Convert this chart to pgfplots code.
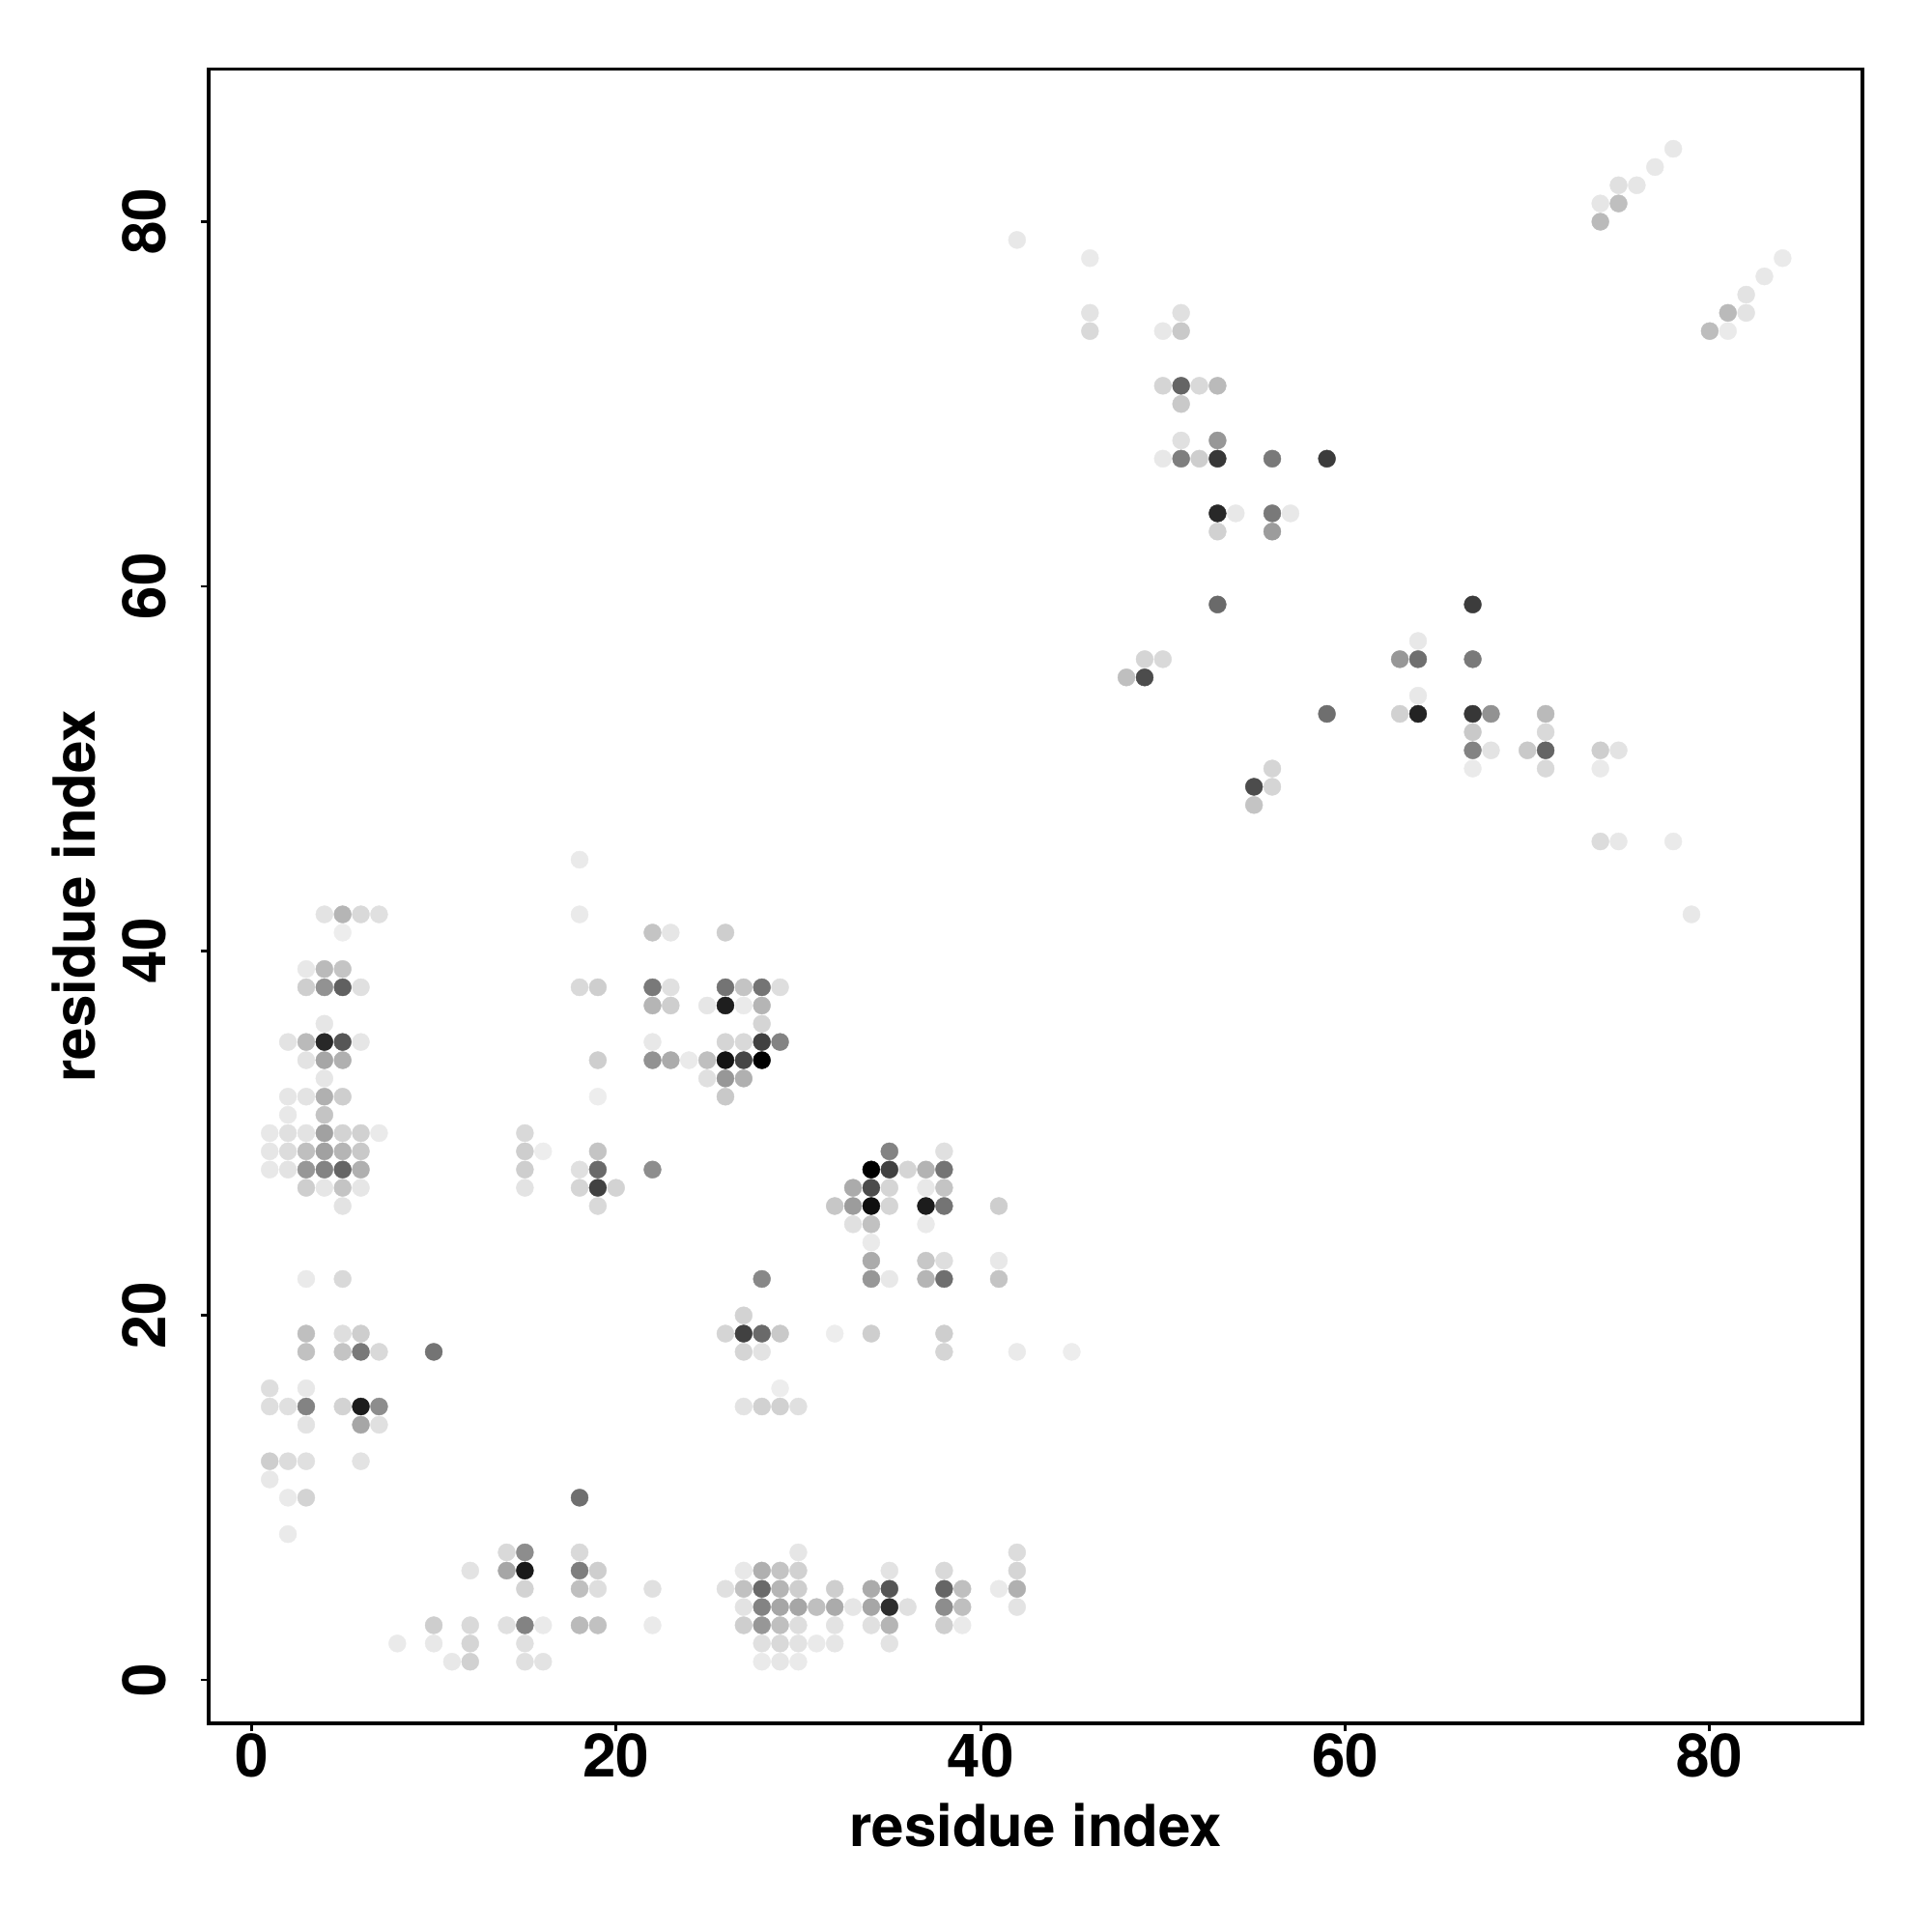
\documentclass[border=0pt]{standalone}
\usepackage{fontspec}
\setmainfont{TeX Gyre Heros}
\usepackage{pgfplots}
\usepackage{pgfplotstable}
\pgfplotsset{compat=1.18}

% one row per y value: x y grey level (0 = black, 255 = white)
\pgfplotstableread[row sep=crcr]{
x y g\\
78 84 230\\ 77 83 230\\ 75 82 222\\ 76 82 228\\ 74 81 228\\ 75 81 190\\ 74 80 185\\
42 79 230\\ 46 78 232\\ 84 78 232\\ 83 77 230\\ 82 76 225\\
46 75 225\\ 51 75 222\\ 81 75 185\\ 82 75 225\\
46 74 215\\ 50 74 230\\ 51 74 200\\ 80 74 188\\ 81 74 232\\
50 71 212\\ 51 71 100\\ 52 71 215\\ 53 71 185\\ 51 70 200\\
51 68 222\\ 53 68 150\\
50 67 230\\ 51 67 125\\ 52 67 205\\ 53 67 55\\ 56 67 120\\ 59 67 60\\
53 64 40\\ 54 64 230\\ 56 64 120\\ 57 64 230\\ 53 63 208\\ 56 63 155\\
53 59 105\\ 67 59 60\\ 64 57 230\\
49 56 212\\ 50 56 215\\ 63 56 150\\ 64 56 110\\ 67 56 120\\
48 55 190\\ 49 55 75\\ 64 54 230\\
59 53 110\\ 63 53 208\\ 64 53 35\\ 67 53 55\\ 68 53 145\\ 71 53 185\\
67 52 200\\ 71 52 215\\
67 51 130\\ 68 51 225\\ 70 51 200\\ 71 51 100\\ 74 51 205\\ 75 51 225\\
56 50 212\\ 67 50 232\\ 71 50 215\\ 74 50 232\\
55 49 75\\ 56 49 212\\ 55 48 195\\
74 46 218\\ 75 46 230\\ 78 46 232\\ 18 45 232\\
4 42 225\\ 5 42 180\\ 6 42 215\\ 7 42 222\\ 18 42 232\\ 79 42 230\\
5 41 235\\ 22 41 195\\ 23 41 228\\ 26 41 205\\
3 39 230\\ 4 39 185\\ 5 39 195\\
3 38 205\\ 4 38 145\\ 5 38 95\\ 6 38 222\\ 18 38 215\\ 19 38 205\\ 22 38 120\\ 23 38 222\\ 26 38 115\\ 27 38 195\\ 28 38 115\\ 29 38 220\\
22 37 180\\ 23 37 205\\ 25 37 228\\ 26 37 30\\ 27 37 232\\ 28 37 180\\
4 36 228\\ 28 36 212\\
2 35 225\\ 3 35 185\\ 4 35 40\\ 5 35 85\\ 6 35 228\\ 22 35 230\\ 26 35 212\\ 27 35 215\\ 28 35 65\\ 29 35 130\\
3 34 225\\ 4 34 165\\ 5 34 175\\ 19 34 205\\ 22 34 145\\ 23 34 170\\ 24 34 232\\ 25 34 190\\ 26 34 20\\ 27 34 70\\ 28 34 0\\
4 33 228\\ 25 33 222\\ 26 33 150\\ 27 33 175\\
2 32 228\\ 3 32 225\\ 4 32 175\\ 5 32 205\\ 19 32 235\\ 26 32 200\\
2 31 230\\ 4 31 195\\
1 30 230\\ 2 30 222\\ 3 30 225\\ 4 30 160\\ 5 30 210\\ 6 30 208\\ 7 30 232\\ 15 30 215\\
1 29 228\\ 2 29 218\\ 3 29 190\\ 4 29 160\\ 5 29 180\\ 6 29 200\\ 15 29 205\\ 16 29 235\\ 19 29 195\\ 35 29 130\\ 38 29 222\\
1 28 230\\ 2 28 225\\ 3 28 150\\ 4 28 130\\ 5 28 100\\ 6 28 175\\ 15 28 205\\ 18 28 222\\ 19 28 105\\ 22 28 140\\ 34 28 0\\ 35 28 65\\ 36 28 212\\ 37 28 178\\ 38 28 115\\
3 27 205\\ 4 27 228\\ 5 27 195\\ 6 27 228\\ 15 27 225\\ 18 27 212\\ 19 27 65\\ 20 27 210\\ 33 27 170\\ 34 27 75\\ 35 27 212\\ 37 27 230\\ 38 27 195\\
5 26 225\\ 19 26 215\\ 32 26 198\\ 33 26 155\\ 34 26 15\\ 35 26 212\\ 37 26 28\\ 38 26 115\\ 41 26 205\\
33 25 222\\ 34 25 192\\ 37 25 232\\ 34 24 232\\
34 23 170\\ 37 23 198\\ 38 23 220\\ 41 23 230\\
3 22 232\\ 5 22 215\\ 28 22 135\\ 34 22 150\\ 35 22 230\\ 37 22 180\\ 38 22 110\\ 41 22 195\\
27 20 210\\
3 19 190\\ 5 19 220\\ 6 19 205\\ 26 19 212\\ 27 19 65\\ 28 19 105\\ 29 19 200\\ 32 19 235\\ 34 19 205\\ 38 19 205\\
3 18 192\\ 5 18 195\\ 6 18 120\\ 7 18 215\\ 10 18 115\\ 27 18 212\\ 28 18 225\\ 38 18 212\\ 42 18 232\\ 45 18 235\\
1 16 220\\ 3 16 230\\ 29 16 235\\
1 15 220\\ 2 15 222\\ 3 15 130\\ 5 15 210\\ 6 15 28\\ 7 15 140\\ 27 15 225\\ 28 15 208\\ 29 15 208\\ 30 15 222\\
3 14 225\\ 6 14 165\\ 7 14 222\\
1 12 205\\ 2 12 218\\ 3 12 222\\ 6 12 225\\ 1 11 230\\
2 10 232\\ 3 10 210\\ 18 10 110\\ 2 8 232\\
14 7 215\\ 15 7 140\\ 18 7 215\\ 30 7 228\\ 42 7 218\\
12 6 225\\ 14 6 165\\ 15 6 25\\ 18 6 125\\ 19 6 205\\ 27 6 230\\ 28 6 175\\ 29 6 195\\ 30 6 208\\ 35 6 225\\ 38 6 215\\ 42 6 212\\
15 5 210\\ 18 5 190\\ 19 5 220\\ 22 5 222\\ 26 5 222\\ 27 5 192\\ 28 5 105\\ 29 5 180\\ 30 5 205\\ 32 5 205\\ 34 5 170\\ 35 5 85\\ 38 5 100\\ 39 5 190\\ 41 5 232\\ 42 5 175\\
27 4 225\\ 28 4 130\\ 29 4 165\\ 30 4 165\\ 31 4 190\\ 32 4 170\\ 33 4 228\\ 34 4 165\\ 35 4 45\\ 36 4 222\\ 38 4 140\\ 39 4 190\\ 42 4 225\\
10 3 205\\ 12 3 215\\ 14 3 222\\ 15 3 130\\ 16 3 232\\ 18 3 185\\ 19 3 192\\ 22 3 232\\ 27 3 205\\ 28 3 150\\ 29 3 190\\ 30 3 220\\ 32 3 225\\ 34 3 222\\ 35 3 180\\ 38 3 205\\ 39 3 232\\
8 2 232\\ 10 2 230\\ 12 2 212\\ 15 2 222\\ 28 2 222\\ 29 2 215\\ 30 2 225\\ 31 2 232\\ 32 2 228\\ 35 2 225\\
11 1 230\\ 12 1 208\\ 15 1 222\\ 16 1 225\\ 28 1 232\\ 29 1 228\\ 30 1 232\\
}\contacts

\begin{document}
\begin{tikzpicture}
\useasboundingbox (0,0) rectangle (1000pt,1000pt);
\begin{axis}[
    at={(108pt,108pt)},
    anchor=south west,
    scale only axis,
    width=856pt,
    height=856.1pt,
    xmin=-2.35, xmax=88.38,
    ymin=-2.38, ymax=88.36,
    xtick={0,20,40,60,80},
    ytick={0,20,40,60,80},
    tick pos=left,
    tick align=outside,
    major tick length=4.25pt,
    axis line style={line width=1.6pt},
    tick style={line width=1.4pt, black},
    /pgf/number format/assume math mode=true,
    tick label style={font=\fontsize{31}{36}\selectfont\bfseries},
    xticklabel style={anchor=base, yshift=-23.75pt},
    yticklabel style={xshift=-18.25pt, rotate=90, anchor=base},
    label style={font=\fontsize{30}{36}\selectfont\bfseries},
    xlabel={residue index},
    ylabel={residue index},
    xlabel style={at={(axis description cs:0.5,-0.0745)}, anchor=base},
    ylabel style={at={(axis description cs:-0.0689,0.5)}, anchor=base},
    colormap={bw}{gray(0cm)=(0); gray(1cm)=(1)},
    point meta min=0,
    point meta max=255,
    clip=false,
]
\addplot[
    scatter,
    only marks,
    mark=*,
    mark size=4.48pt,
    mark options={line width=0.2pt},
    point meta=explicit,
    scatter/use mapped color={draw=mapped color, fill=mapped color},
] table[x=x, y=y, meta=g] {\contacts};
% R draws its axis lines over the box, from first to last tick
\draw[line width=2.2pt] (axis cs:0,-2.38) -- (axis cs:80,-2.38);
\draw[line width=2.2pt] (axis cs:-2.35,0) -- (axis cs:-2.35,80);
\end{axis}
\end{tikzpicture}
\end{document}
